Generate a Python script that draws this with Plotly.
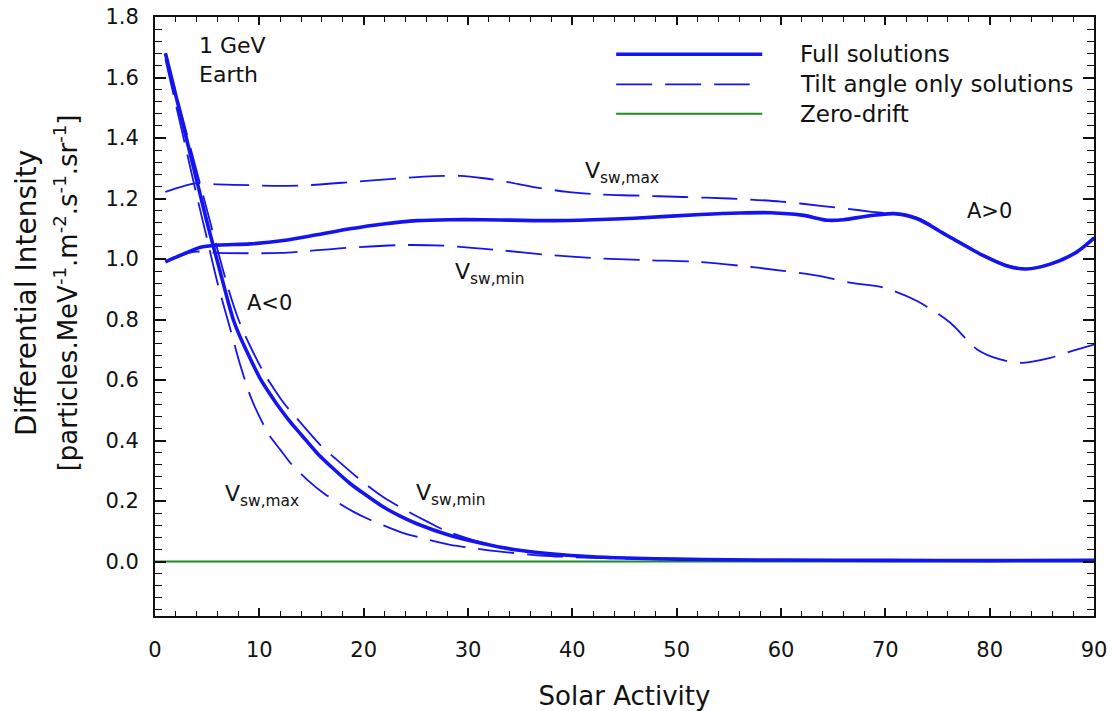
import plotly.graph_objects as go

# Solar activity (x) and differential intensity (y) for 1 GeV protons at Earth
# A<0 polarity cycle
act_full_neg = [1, 2, 3, 4, 5, 6, 7, 7.5, 8, 9, 10, 11, 12, 13, 14, 15.5, 17, 18.7, 20, 21.9,
                23.5, 25.1, 28.3, 31.5, 34.7, 37.9, 42, 46, 50, 55, 60, 70, 80, 90]
int_full_neg = [1.68, 1.54, 1.40, 1.26, 1.12, 0.99, 0.86, 0.80, 0.755, 0.68, 0.61, 0.555, 0.505,
                0.46, 0.42, 0.36, 0.31, 0.258, 0.225, 0.18, 0.15, 0.125, 0.086, 0.059, 0.038,
                0.026, 0.016, 0.011, 0.008, 0.006, 0.005, 0.004, 0.003, 0.004]

act_tilt_max_neg = [1, 2, 3, 4, 5, 6, 7.2, 8.2, 9.15, 10, 11, 12, 13, 14.6, 16.2, 19, 20.6, 23.8,
                    25.1, 28.3, 29.9, 33.1, 37, 42, 50, 60, 70, 80, 90]
int_tilt_max_neg = [1.66, 1.51, 1.36, 1.21, 1.065, 0.92, 0.77, 0.646, 0.546, 0.48, 0.415, 0.37,
                    0.325, 0.27, 0.225, 0.165, 0.138, 0.094, 0.082, 0.055, 0.047, 0.033, 0.02,
                    0.012, 0.007, 0.005, 0.004, 0.003, 0.003]

act_tilt_min_neg = [1, 2, 3, 4, 5, 6, 7, 8, 9.15, 10.5, 12.34, 13.3, 15.85, 17.3, 19.5, 21.8, 24,
                    26.1, 28, 30.5, 33, 36, 40, 45, 50, 60, 70, 80, 90]
int_tilt_min_neg = [1.68, 1.55, 1.42, 1.29, 1.16, 1.03, 0.905, 0.80, 0.71, 0.62, 0.524, 0.485,
                    0.385, 0.34, 0.275, 0.215, 0.17, 0.132, 0.10, 0.071, 0.05, 0.033, 0.018,
                    0.011, 0.008, 0.005, 0.004, 0.003, 0.003]

# A>0 polarity cycle
act_full_pos = [1, 2.76, 4.36, 6, 9.15, 12.3, 15.5, 18.7, 21.9, 25.1, 28.3, 31.5, 37.9, 42, 45.9,
                52.3, 56, 59, 62, 64.5, 66, 68.5, 70.8, 73, 76.2, 79.4, 81.6, 83.5, 85.8, 88.3, 90]
int_full_pos = [0.991, 1.017, 1.039, 1.046, 1.05, 1.061, 1.08, 1.10, 1.116, 1.127, 1.13, 1.13,
                1.127, 1.13, 1.135, 1.147, 1.152, 1.153, 1.145, 1.128, 1.13, 1.143, 1.15, 1.134,
                1.072, 1.011, 0.978, 0.967, 0.983, 1.022, 1.069]

act_tilt_max_pos = [1, 3.9, 6, 9, 12, 14.6, 19, 23.5, 26.7, 29.3, 31.5, 33.7, 36.3, 39.5, 42.7,
                    45.9, 50.6, 55, 60, 64, 66.6, 68.5, 70.5, 73, 76.2, 79.4, 81.6, 83.5, 85.8,
                    88.3, 90]
int_tilt_max_pos = [1.222, 1.25, 1.247, 1.244, 1.242, 1.244, 1.255, 1.267, 1.274, 1.275, 1.267,
                    1.255, 1.238, 1.222, 1.213, 1.21, 1.205, 1.20, 1.19, 1.175, 1.165, 1.157,
                    1.15, 1.137, 1.075, 1.014, 0.98, 0.968, 0.984, 1.024, 1.072]

act_tilt_min_pos = [1, 3.7, 6, 9, 12, 14.6, 18, 23.5, 27.7, 33.1, 37.9, 42.7, 47.5, 51.9, 56, 60,
                    63.5, 66.6, 69.8, 73, 76.2, 78.8, 81, 83.2, 85.8, 88, 90]
int_tilt_min_pos = [0.99, 1.024, 1.02, 1.019, 1.02, 1.026, 1.036, 1.046, 1.044, 1.029, 1.013,
                    1.002, 0.996, 0.991, 0.978, 0.962, 0.945, 0.922, 0.906, 0.862, 0.79, 0.701,
                    0.668, 0.657, 0.673, 0.697, 0.717]

# Zero-drift solution
act_zero = [0, 10, 20, 30, 40, 50, 60, 70, 80, 90]
int_zero = [0.0, 0.0, 0.0, 0.0, 0.0, 0.0, 0.0, 0.0, 0.0, 0.0]

BLUE = "#1414f0"
GREEN = "#1e8c1e"
DASH = "36px,13px"
FONT = "DejaVu Sans"

fig = go.Figure()

fig.add_trace(go.Scatter(x=act_zero, y=int_zero, mode="lines",
                         line=dict(color=GREEN, width=2), showlegend=False))

for xs, ys in [(act_tilt_max_neg, int_tilt_max_neg), (act_tilt_min_neg, int_tilt_min_neg),
               (act_tilt_max_pos, int_tilt_max_pos), (act_tilt_min_pos, int_tilt_min_pos)]:
    fig.add_trace(go.Scatter(x=xs, y=ys, mode="lines",
                             line=dict(color=BLUE, width=1.8, dash=DASH, shape="spline",
                                       smoothing=0.8),
                             showlegend=False))

for xs, ys in [(act_full_neg, int_full_neg), (act_full_pos, int_full_pos)]:
    fig.add_trace(go.Scatter(x=xs, y=ys, mode="lines",
                             line=dict(color=BLUE, width=3.6, shape="spline", smoothing=0.8),
                             showlegend=False))

# Hand-drawn legend block (long line samples)
legend_rows = [
    ("Full solutions", dict(color=BLUE, width=3.6), 44.2, 58.2, 1.677),
    ("Tilt angle only solutions", dict(color=BLUE, width=1.8, dash=DASH), 44.2, 57.0, 1.577),
    ("Zero-drift", dict(color=GREEN, width=2), 44.2, 58.2, 1.48),
]
for label, ln, x0, x1, yv in legend_rows:
    fig.add_shape(type="line", xref="x", yref="y", x0=x0, x1=x1, y0=yv, y1=yv, line=ln)
    fig.add_annotation(x=61.6, y=yv, xref="x", yref="y", text=label, showarrow=False,
                       xanchor="left", yanchor="middle", font=dict(size=23, color="#111"))

# In-plot labels
notes = [
    ("1 GeV<br>Earth", 4.0, 1.658, "left"),
    ("A<0", 11.0, 0.855, "center"),
    ("A>0", 80.0, 1.158, "center"),
    ("V<sub>sw,max</sub>", 41.0, 1.285, "left"),
    ("V<sub>sw,min</sub>", 28.6, 0.953, "left"),
    ("V<sub>sw,max</sub>", 6.55, 0.217, "left"),
    ("V<sub>sw,min</sub>", 24.8, 0.22, "left"),
]
for txt, xv, yv, anc in notes:
    fig.add_annotation(x=xv, y=yv, xref="x", yref="y", text=txt, showarrow=False,
                       xanchor=anc, yanchor="middle", align="left",
                       font=dict(size=21 if "V" not in txt else 22, color="#111"))

# Y-axis title in two lines
fig.add_annotation(x=-0.137, y=0.54, xref="paper", yref="paper", text="Differential Intensity",
                   textangle=-90, showarrow=False, xanchor="center", yanchor="middle",
                   font=dict(size=28, color="#111"))
fig.add_annotation(x=-0.095, y=0.54, xref="paper", yref="paper",
                   text="[particles.MeV<sup>-1</sup>.m<sup>-2</sup>.s<sup>-1</sup>.sr<sup>-1</sup>]",
                   textangle=-90, showarrow=False, xanchor="center", yanchor="middle",
                   font=dict(size=26, color="#111"))

axis_common = dict(showline=True, linecolor="#111", linewidth=2, mirror="ticks",
                   ticks="inside", tickcolor="#111", tickwidth=1.6, showgrid=False,
                   zeroline=False, automargin=False,
                   tickfont=dict(size=21, color="#111", family=FONT))

fig.update_xaxes(range=[0, 90], tick0=0, dtick=10, ticklen=8,
                 minor=dict(dtick=2, ticks="inside", ticklen=5, tickcolor="#111", tickwidth=1.4),
                 ticklabelstandoff=14,
                 title=dict(text="Solar Activity", font=dict(size=26, color="#111", family=FONT),
                            standoff=26),
                 **axis_common)
fig.update_yaxes(range=[-0.18, 1.8], tick0=0, dtick=0.2, tickformat=".1f", ticklen=11,
                 minor=dict(dtick=0.04, ticks="inside", ticklen=7, tickcolor="#111", tickwidth=1.4),
                 ticklabelstandoff=10,
                 **axis_common)

fig.update_layout(width=1115, height=711, margin=dict(l=155, r=21, t=17, b=95),
                  plot_bgcolor="white", paper_bgcolor="white",
                  font=dict(family=FONT, color="#111"))

fig.write_html("out.html")
